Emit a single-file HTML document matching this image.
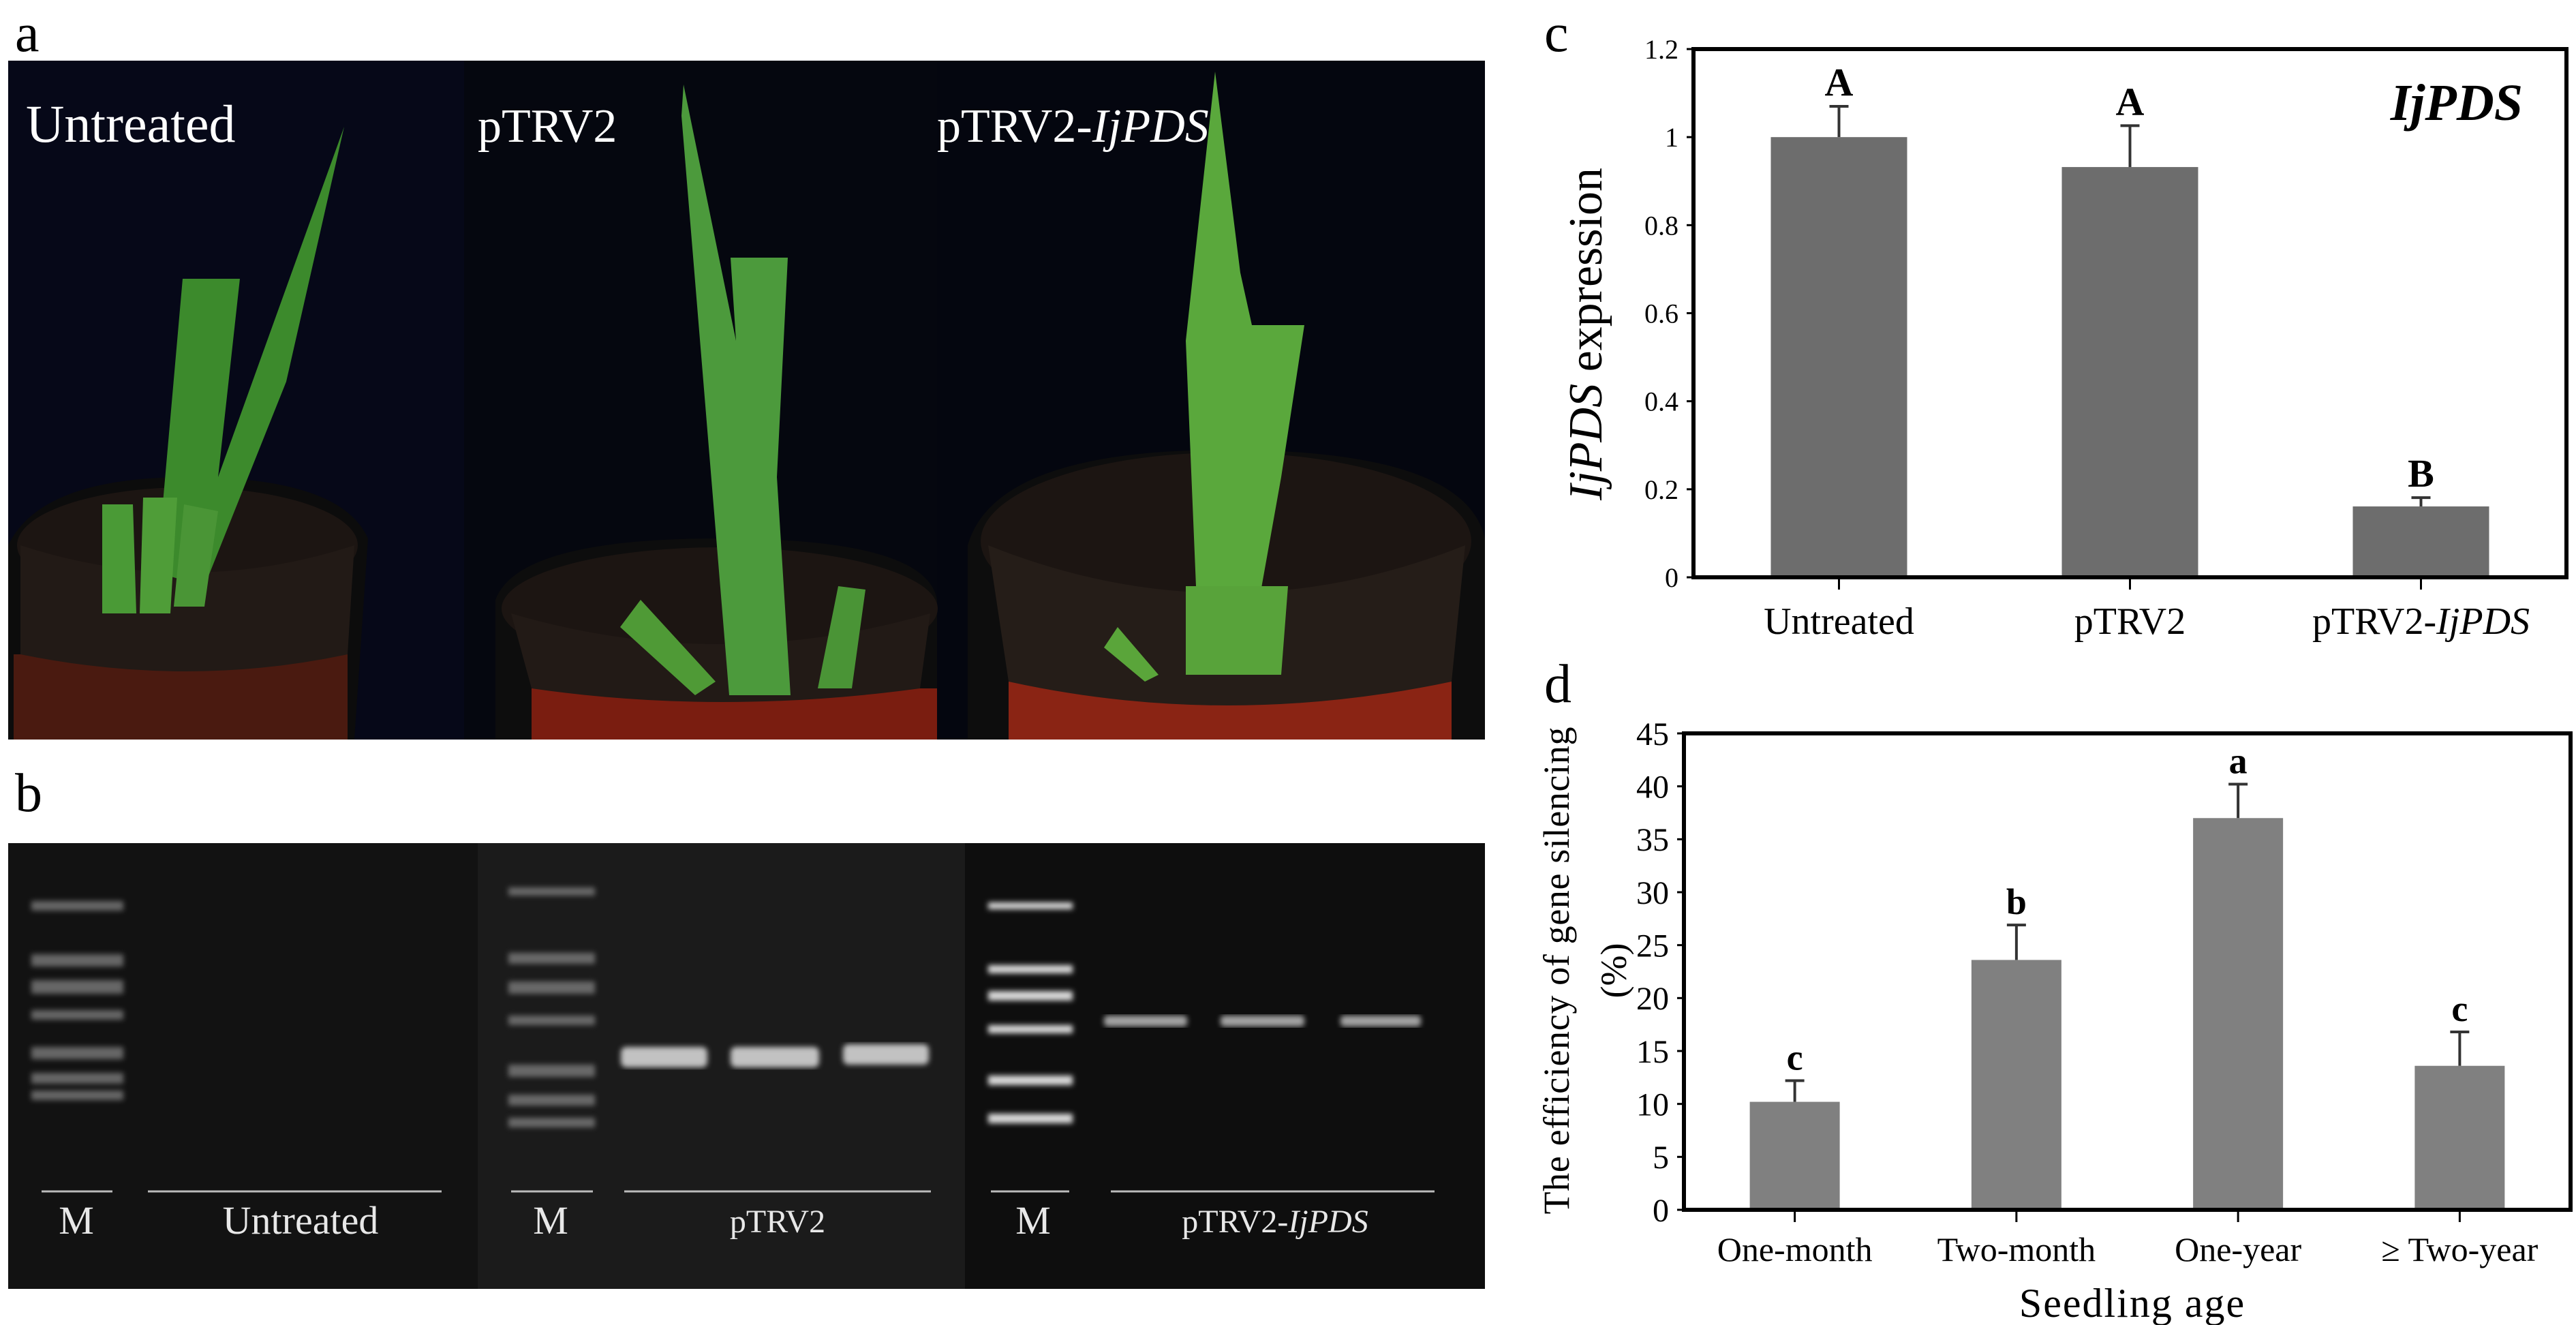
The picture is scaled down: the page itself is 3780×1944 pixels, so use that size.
<!DOCTYPE html>
<html><head><meta charset="utf-8"><style>
html,body{margin:0;padding:0;background:#fff}
svg{display:block}
text{font-family:"Liberation Serif",serif}
</style></head><body>
<svg id="fig" width="3780" height="1944" viewBox="0 0 3780 1944" xmlns="http://www.w3.org/2000/svg">
<defs>
<filter id="blur4"><feGaussianBlur stdDeviation="4"/></filter>
</defs>
<!-- Panel a photos -->
<g>
<rect x="12" y="89" width="669" height="996" fill="#060818"/>
<rect x="681" y="89" width="694" height="996" fill="#05070f"/>
<rect x="1375" y="89" width="804" height="996" fill="#04060f"/>
<!-- photo 1 -->
<g>
<path d="M12 1085 L12 800 Q60 700 275 700 Q500 700 540 790 L520 1085 Z" fill="#0c0c0c"/>
<rect x="20" y="960" width="490" height="125" fill="#4a1a10"/>
<ellipse cx="275" cy="800" rx="250" ry="85" fill="#1c1512"/>
<path d="M30 800 Q275 880 520 800 L510 960 Q275 1010 30 960 Z" fill="#221a16"/>
<path d="M230 840 L268 409 L352 409 L320 700 L505 186 L420 560 L300 860 Z" fill="#3c8a2c"/>
<path d="M150 900 L150 740 L195 740 L200 900 Z" fill="#4a9a36"/>
<path d="M205 900 L210 730 L260 730 L250 900 Z" fill="#4f9d38"/>
<path d="M255 890 L270 740 L320 750 L300 890 Z" fill="#4a9536"/>
</g>
<!-- photo 2 -->
<g>
<path d="M727 1085 L727 880 Q760 790 1056 790 Q1360 790 1375 880 L1375 1085 Z" fill="#0d0d0d"/>
<rect x="780" y="1010" width="595" height="75" fill="#7a1d10"/>
<ellipse cx="1056" cy="893" rx="320" ry="90" fill="#1c1512"/>
<path d="M750 900 Q1056 990 1365 900 L1350 1010 Q1056 1050 780 1010 Z" fill="#221a16"/>
<path d="M1070 1020 L1000 170 L1003 124 L1080 500 L1072 378 L1156 378 L1140 700 L1160 1020 Z" fill="#4c9a3c"/>
<path d="M910 920 L940 880 L1050 1000 L1020 1020 Z" fill="#4f9a36"/>
<path d="M1200 1010 L1230 860 L1270 865 L1250 1010 Z" fill="#4a9436"/>
</g>
<!-- photo 3 -->
<g>
<path d="M1420 1085 L1420 800 Q1460 660 1799 660 Q2150 660 2179 790 L2179 1085 Z" fill="#0d0d0d"/>
<rect x="1480" y="1000" width="650" height="85" fill="#8a2414"/>
<ellipse cx="1799" cy="794" rx="360" ry="130" fill="#1c1512"/>
<path d="M1450 800 Q1799 940 2150 800 L2130 1000 Q1799 1070 1480 1000 Z" fill="#251d18"/>
<path d="M1760 980 L1740 500 L1783 105 L1820 400 L1837 477 L1914 477 L1880 700 L1830 980 Z" fill="#5aa83c"/>
<path d="M1740 990 L1740 860 L1890 860 L1880 990 Z" fill="#58a33a"/>
<path d="M1620 950 L1640 920 L1700 990 L1680 1000 Z" fill="#5aa53a"/>
</g>
<text x="38" y="208" font-size="78" fill="#fff">Untreated</text>
<text x="701" y="208" font-size="70" fill="#fff">pTRV2</text>
<text x="1375" y="208" font-size="70" fill="#fff">pTRV2-<tspan font-style="italic">IjPDS</tspan></text>
</g>
<text x="22" y="75" font-size="80" fill="#000">a</text>
<text x="22" y="1190" font-size="80" fill="#000">b</text>
<text x="2266" y="75" font-size="80" fill="#000">c</text>
<text x="2266" y="1030" font-size="80" fill="#000">d</text>

<!-- Panel b gel -->
<g>
<rect x="12" y="1237" width="689" height="654" fill="#121212"/>
<rect x="701" y="1237" width="715" height="654" fill="#1b1b1b"/>
<rect x="1416" y="1237" width="763" height="654" fill="#0e0e0e"/>
<g fill="#8a8a8a" opacity="0.7" filter="url(#blur4)">
<rect x="46" y="1322" width="135" height="14"/><rect x="46" y="1400" width="135" height="18"/><rect x="46" y="1438" width="135" height="20"/><rect x="46" y="1482" width="135" height="14"/><rect x="46" y="1536" width="135" height="18"/><rect x="46" y="1574" width="135" height="16"/><rect x="46" y="1600" width="135" height="14"/>
<rect x="746" y="1302" width="127" height="12"/><rect x="746" y="1398" width="127" height="16"/><rect x="746" y="1440" width="127" height="18"/><rect x="746" y="1490" width="127" height="14"/><rect x="746" y="1562" width="127" height="18"/><rect x="746" y="1606" width="127" height="16"/><rect x="746" y="1640" width="127" height="14"/>
</g>
<g fill="#d8d8d8" filter="url(#blur4)">
<rect x="1450" y="1324" width="124" height="10"/><rect x="1450" y="1416" width="124" height="12"/><rect x="1450" y="1454" width="124" height="14"/><rect x="1450" y="1504" width="124" height="12"/><rect x="1450" y="1578" width="124" height="14"/><rect x="1450" y="1634" width="124" height="14"/>
</g>
<g fill="#e0e0e0" opacity="0.85" filter="url(#blur4)">
<rect x="911" y="1536" width="127" height="30" rx="8"/><rect x="1072" y="1536" width="130" height="30" rx="8"/><rect x="1237" y="1532" width="126" height="30" rx="8"/>
</g>
<g fill="#c8c8c8" opacity="0.8" filter="url(#blur4)">
<rect x="1620" y="1490" width="122" height="16" rx="5"/><rect x="1791" y="1490" width="123" height="16" rx="5"/><rect x="1967" y="1490" width="118" height="16" rx="5"/>
</g>
<g stroke="#bbb" stroke-width="3">
<line x1="61" y1="1748" x2="165" y2="1748"/><line x1="217" y1="1748" x2="648" y2="1748"/>
<line x1="750" y1="1748" x2="870" y2="1748"/><line x1="916" y1="1748" x2="1366" y2="1748"/>
<line x1="1454" y1="1748" x2="1569" y2="1748"/><line x1="1630" y1="1748" x2="2105" y2="1748"/>
</g>
<g fill="#e8e8e8" text-anchor="middle">
<text x="112" y="1810" font-size="58">M</text>
<text x="441" y="1810" font-size="58">Untreated</text>
<text x="808" y="1810" font-size="58">M</text>
<text x="1141" y="1808" font-size="48">pTRV2</text>
<text x="1516" y="1810" font-size="58">M</text>
<text x="1871" y="1808" font-size="48">pTRV2-<tspan font-style="italic">IjPDS</tspan></text>
</g>
</g>

<g id="chartC"></g>
<g id="chartD"></g>
</svg>
<script>
const NS = "http://www.w3.org/2000/svg";
// Chart c data
const cCategories = ["Untreated", "pTRV2", "pTRV2-IjPDS"];
const cValues = [1.0, 0.932, 0.161];
const cErrors = [0.07, 0.094, 0.02];
const cLetters = ["A", "A", "B"];
const cTicks = [0, 0.2, 0.4, 0.6, 0.8, 1, 1.2];
// Chart d data
const dCategories = ["One-month", "Two-month", "One-year", "\u2265 Two-year"];
const dValues = [10.2, 23.6, 37.0, 13.6];
const dErrors = [2.0, 3.3, 3.2, 3.2];
const dLetters = ["c", "b", "a", "c"];
const dTicks = [0, 5, 10, 15, 20, 25, 30, 35, 40, 45];

function mk(tag, attrs, parent) {
  const e = document.createElementNS(NS, tag);
  for (const k in attrs) e.setAttribute(k, attrs[k]);
  parent.appendChild(e);
  return e;
}

function drawChart(g, cfg) {
  const {L, R, T, B, ymax, cats, vals, errs, letters, ticks, barW, fill, tickFmt, tickSize, catSize, letterSize, letterBold} = cfg;
  const y = v => B - (v / ymax) * (B - T);
  const step = (R - L) / cats.length;
  const x = i => L + step * (i + 0.5);
  cats.forEach((c, i) => {
    const bar = mk("rect", {x: x(i) - barW / 2, y: y(vals[i]), width: barW, height: B - y(vals[i]), fill: fill}, g);
    
    
    const ey = y(vals[i] + errs[i]);
    const el = mk("path", {d: `M${x(i)} ${y(vals[i])} V${ey} M${x(i) - 14} ${ey} H${x(i) + 14}`, stroke: "#333", "stroke-width": 4, fill: "none"}, g);
    
    
    const lt = mk("text", {x: x(i), y: ey - 16, "text-anchor": "middle", "font-size": letterSize, "font-weight": letterBold ? "bold" : "normal"}, g);
    lt.textContent = letters[i];
    
    
    const tk = mk("line", {x1: x(i), y1: B, x2: x(i), y2: B + 18, stroke: "#000", "stroke-width": 3}, g);
    
    
    const lb = mk("text", {x: x(i), y: cfg.catY, "text-anchor": "middle", "font-size": catSize}, g);
    if (c === "pTRV2-IjPDS") {
      lb.appendChild(document.createTextNode("pTRV2-"));
      const ts = mk("tspan", {"font-style": "italic"}, lb);
      ts.textContent = "IjPDS";
    } else lb.textContent = c;
    
    
  });
  ticks.forEach(t => {
    const tl = mk("text", {x: L - 22, y: y(t) + tickSize * 0.35, "text-anchor": "end", "font-size": tickSize}, g);
    tl.textContent = tickFmt(t);
    
    
    const tm = mk("line", {x1: L - 10, y1: y(t), x2: L, y2: y(t), stroke: "#000", "stroke-width": 3}, g);
    
    
  });
  const box = mk("rect", {x: L, y: T, width: R - L, height: B - T, fill: "none", stroke: "#000", "stroke-width": 6}, g);
  
  
}

const gc = document.getElementById("chartC");
drawChart(gc, {L: 2485, R: 3766, T: 72, B: 847, ymax: 1.2, cats: cCategories, vals: cValues, errs: cErrors,
  letters: cLetters, ticks: cTicks, barW: 200, fill: "#6d6d6d", tickFmt: t => String(t), tickSize: 40,
  catSize: 56, catY: 930, letterSize: 58, letterBold: true});
const gd = document.getElementById("chartD");
drawChart(gd, {L: 2471, R: 3772, T: 1076, B: 1775, ymax: 45, cats: dCategories, vals: dValues, errs: dErrors,
  letters: dLetters, ticks: dTicks, barW: 132, fill: "#808080", tickFmt: t => String(t), tickSize: 48,
  catSize: 50, catY: 1850, letterSize: 54, letterBold: true});

// titles
const ct = mk("text", {x: 0, y: 0, "text-anchor": "middle", "font-size": 70, transform: "translate(2350,490) rotate(-90)"}, gc);
const cti = mk("tspan", {"font-style": "italic"}, ct); cti.textContent = "IjPDS";
ct.appendChild(document.createTextNode(" expression"));


const gene = mk("text", {x: 3702, y: 176, "text-anchor": "end", "font-size": 76, "font-style": "italic", "font-weight": "bold"}, gc);
gene.textContent = "IjPDS";


const dt1 = mk("text", {x: 0, y: 0, "text-anchor": "middle", "font-size": 54, textLength: 715, lengthAdjust: "spacing", transform: "translate(2302,1424) rotate(-90)"}, gd);
dt1.textContent = "The efficiency of gene silencing";


const dt2 = mk("text", {x: 0, y: 0, "text-anchor": "middle", "font-size": 54, transform: "translate(2386,1424) rotate(-90)"}, gd);
dt2.textContent = "(%)";


const dx = mk("text", {x: 3129, y: 1932, "text-anchor": "middle", "font-size": 60, "letter-spacing": 2}, gd);
dx.textContent = "Seedling age";


</script>
</body></html>
